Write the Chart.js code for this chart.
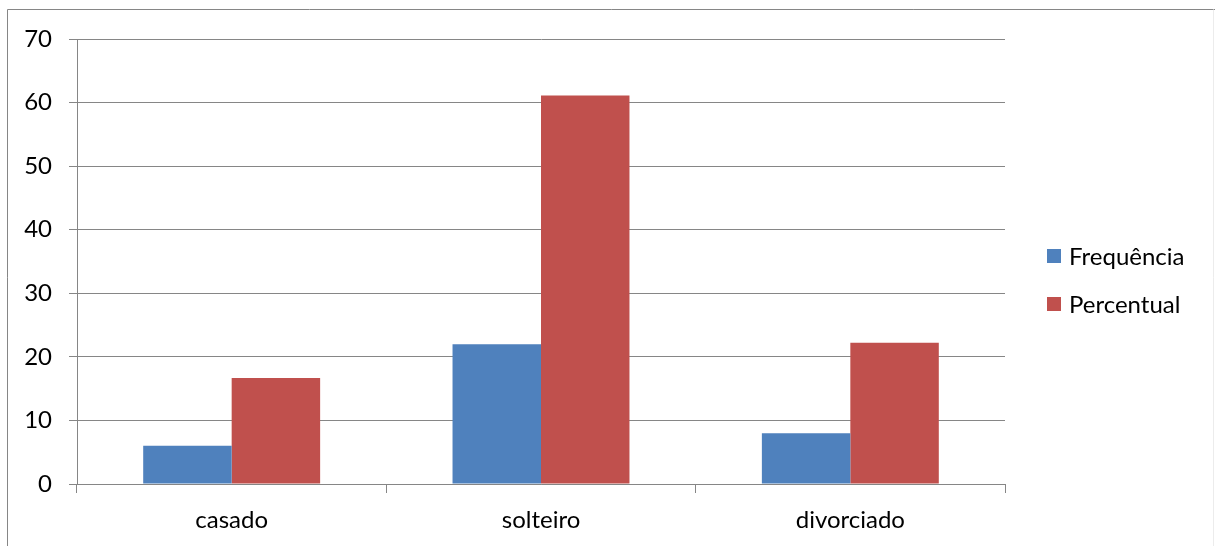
<!DOCTYPE html>
<html>
<head>
<meta charset="utf-8">
<script src="https://cdn.jsdelivr.net/npm/chart.js@4/dist/chart.umd.min.js"></script>
<style>
  html, body { margin: 0; padding: 0; background: #ffffff; }
  #wrap { width: 1215px; height: 546px; position: relative; }
</style>
</head>
<body>
<div id="wrap"><canvas id="c" width="1215" height="546"></canvas></div>
<script>
// Estado civil: frequência absoluta e percentual
const categories = ['casado', 'solteiro', 'divorciado'];
const frequencia = [6, 22, 8];
const percentual = [16.67, 61.11, 22.22];
const seriesNames = ['Frequência', 'Percentual'];
const yTicks = [0, 10, 20, 30, 40, 50, 60, 70];

const FONT = 'Lato, "Open Sans", sans-serif';
const FONT_SIZE = 24;
const GRID = '#868686';

// Outer frame of the chart
const framePlugin = {
  id: 'frame',
  beforeDraw(chart) {
    const ctx = chart.ctx;
    ctx.save();
    ctx.fillStyle = '#ffffff';
    ctx.fillRect(0, 0, chart.width, chart.height);
    ctx.strokeStyle = GRID;
    ctx.lineWidth = 1;
    ctx.beginPath();
    ctx.moveTo(7.5, chart.height);
    ctx.lineTo(7.5, 9.5);
    ctx.lineTo(chart.width, 9.5);
    ctx.stroke();
    ctx.strokeStyle = '#ececec';
    ctx.beginPath();
    ctx.moveTo(1213.5, 9.5);
    ctx.lineTo(1213.5, chart.height);
    ctx.stroke();
    ctx.restore();
  }
};

// Legend drawn to the right of the plot from the dataset labels/colours
const sideLegend = {
  id: 'sideLegend',
  afterDraw(chart) {
    const ctx = chart.ctx;
    const x0 = 1047, y0 = 249, step = 48, box = 14;
    ctx.save();
    ctx.font = FONT_SIZE + 'px ' + FONT;
    ctx.textBaseline = 'middle';
    ctx.textAlign = 'left';
    chart.data.datasets.forEach((ds, i) => {
      const y = y0 + i * step;
      ctx.fillStyle = ds.backgroundColor;
      ctx.fillRect(x0, y, box, box);
      ctx.fillStyle = '#000000';
      ctx.fillText(ds.label, x0 + box + 8, y + box / 2 + 1);
    });
    ctx.restore();
  }
};

new Chart(document.getElementById('c'), {
  type: 'bar',
  data: {
    labels: categories,
    datasets: [
      { label: seriesNames[0], data: frequencia, backgroundColor: '#4F81BD' },
      { label: seriesNames[1], data: percentual, backgroundColor: '#C0504D' }
    ]
  },
  options: {
    responsive: false,
    animation: false,
    devicePixelRatio: 1,
    layout: { padding: { left: 0, top: 39, right: 210, bottom: 0 } },
    datasets: { bar: { categoryPercentage: 0.572, barPercentage: 1.0 } },
    plugins: {
      legend: { display: false },
      tooltip: { enabled: false }
    },
    scales: {
      x: {
        afterFit(scale) { scale.height = 62; },
        grid: { display: true, drawOnChartArea: false, drawTicks: true, tickLength: 9, color: GRID, offset: true },
        border: { display: true, color: GRID },
        ticks: { color: '#000000', font: { family: FONT, size: FONT_SIZE }, padding: 13 }
      },
      y: {
        min: 0,
        max: 70,
        afterFit(scale) { scale.width = 77; },
        afterBuildTicks(scale) { scale.ticks = yTicks.map(v => ({ value: v })); },
        grid: { color: GRID, tickLength: 8, drawTicks: true },
        border: { display: true, color: GRID },
        ticks: { color: '#000000', font: { family: FONT, size: FONT_SIZE }, padding: 17 }
      }
    }
  },
  plugins: [framePlugin, sideLegend]
});
</script>
</body>
</html>
